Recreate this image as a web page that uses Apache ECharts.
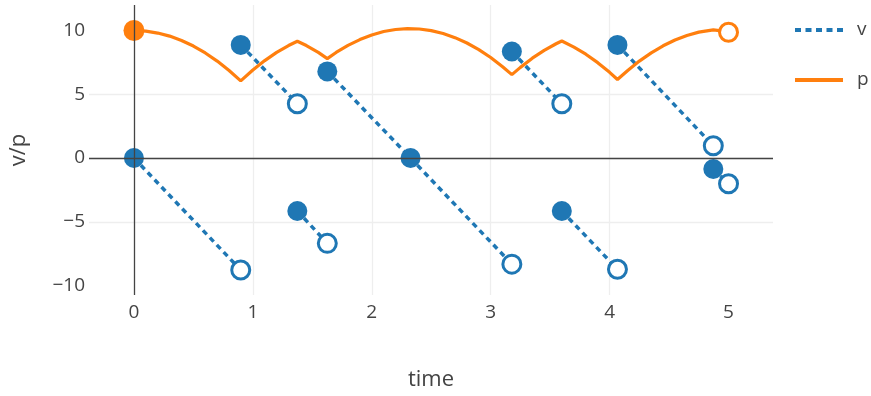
<!DOCTYPE html>
<html><head><meta charset="utf-8">
<script src="https://cdn.jsdelivr.net/npm/echarts@6/dist/echarts.min.js"></script>
<style>html,body{margin:0;padding:0;background:#fff}#c{width:871px;height:396px}</style>
</head><body><div id="c"></div><script>
// v segments (start filled marker, end open marker)
const vSegT0 = [0, 0.898, 1.374, 1.626, 2.326, 3.178, 3.598, 4.066, 4.872];
const vSegV0 = [0, 8.87, -4.15, 6.79, 0, 8.35, -4.15, 8.87, -0.86];
const vSegT1 = [0.898, 1.374, 1.626, 2.326, 3.178, 3.598, 4.066, 4.872, 5.0];
const vSegV1 = [-8.78, 4.26, -6.69, 0, -8.32, 4.26, -8.72, 0.96, -2.02];
// p curve
const pTime = [0,0.1,0.2,0.3,0.4,0.5,0.6,0.7,0.8,0.898,
  1.0,1.1,1.2,1.3,1.374,
  1.45,1.55,1.626,
  1.7,1.8,1.9,2.0,2.1,2.2,2.3,2.4,2.5,2.6,2.7,2.8,2.9,3.0,3.1,3.178,
  3.25,3.35,3.45,3.55,3.598,
  3.7,3.8,3.9,4.0,4.066,
  4.15,4.25,4.35,4.45,4.55,4.65,4.75,4.872,
  4.94,5.0];
const pValue = [10,9.95,9.80,9.56,9.22,8.78,8.24,7.60,6.86,6.05,
  6.90,7.64,8.28,8.82,9.16,
  8.82,8.28,7.80,
  8.28,8.83,9.29,9.65,9.92,10.08,10.15,10.12,9.99,9.76,9.44,9.02,8.50,7.88,7.16,6.54,
  7.11,7.83,8.44,8.96,9.18,
  8.70,8.14,7.48,6.72,6.16,
  6.85,7.60,8.25,8.80,9.26,9.61,9.87,10.05,
  9.97,9.86];
const xTicks = [0,1,2,3,4,5];
const yTicks = [-10,-5,0,5,10];

const BLUE = '#1f77b4', ORANGE = '#ff7f0e', TXT = '#444';
const FONT = '"Open Sans", sans-serif';
const fmt = v => (v < 0 ? '\u2212' + Math.abs(v) : String(v));

const series = [];
for (let i = 0; i < vSegT0.length; i++) {
  const line = {
    name: 'v', type: 'line', symbol: 'none', silent: true, z: 2 + i * 0.01,
    lineStyle: { color: BLUE, width: 3.5, type: [5.5, 4.5] },
    itemStyle: { color: BLUE },
    data: [[vSegT0[i], vSegV0[i]], [vSegT1[i], vSegV1[i]]]
  };
  if (i === 0) {
    line.markLine = {
      silent: true, symbol: 'none', label: { show: false },
      lineStyle: { color: TXT, width: 1.3, type: 'solid' },
      data: [{ xAxis: 0 }, { yAxis: 0 }]
    };
  }
  series.push(line);
  series.push({
    name: 'v', type: 'scatter', silent: true, symbol: 'circle', z: 2.005 + i * 0.01,
    itemStyle: { opacity: 1 },
    data: [
      { value: [vSegT0[i], vSegV0[i]], symbolSize: 20, itemStyle: { color: BLUE, opacity: 1 } },
      { value: [vSegT1[i], vSegV1[i]], symbolSize: 18, itemStyle: { color: '#fff', borderColor: BLUE, borderWidth: 3, opacity: 1 } }
    ].filter((d, k) => !(k === 1 && i + 1 < vSegT0.length && vSegT0[i+1] === vSegT1[i] && vSegV0[i+1] === vSegV1[i]))
  });
}
series.push({
  name: 'p', type: 'line', symbol: 'none', silent: true, z: 3,
  lineStyle: { color: ORANGE, width: 3.2 }, itemStyle: { color: ORANGE },
  data: pTime.map((t, i) => [t, pValue[i]])
});
series.push({
  name: 'p', type: 'scatter', silent: true, symbol: 'circle', z: 3.5,
  itemStyle: { opacity: 1 },
  data: [
    { value: [pTime[0], pValue[0]], symbolSize: 21, itemStyle: { color: ORANGE, opacity: 1 } },
    { value: [pTime[pTime.length-1], pValue[pValue.length-1]], symbolSize: 18, itemStyle: { color: '#fff', borderColor: ORANGE, borderWidth: 3, opacity: 1 } }
  ]
});

const dotIcon = 'path://M0,0h6v4h-6zM10.5,0h6v4h-6zM21,0h6v4h-6zM31.5,0h6v4h-6zM42,0h6v4h-6z';
const solidIcon = 'path://M0,0h48v4h-48z';

const chart = echarts.init(document.getElementById('c'), null, { renderer: 'canvas' });
chart.setOption({
  animation: false,
  backgroundColor: '#fff',
  textStyle: { fontFamily: FONT },
  grid: { left: 88, right: 98, top: 5, bottom: 99, containLabel: false },
  legend: {
    data: [{ name: 'v', icon: dotIcon }, { name: 'p', icon: solidIcon }],
    orient: 'vertical', left: 795, top: 20, padding: 0,
    itemWidth: 48, itemHeight: 4, itemGap: 30,
    itemStyle: { borderWidth: 0 },
    textStyle: { color: TXT, fontSize: 19, fontFamily: FONT, lineHeight: 20, padding: [0, 0, 0, 9] }
  },
  xAxis: {
    type: 'value', min: -0.378, max: 5.374,
    name: 'time', nameLocation: 'middle', nameGap: 74,
    nameTextStyle: { color: TXT, fontSize: 22, fontFamily: FONT },
    axisLine: { show: false },
    axisTick: { show: false, customValues: xTicks },
    axisLabel: { color: TXT, fontSize: 19, fontFamily: FONT, margin: 8, customValues: xTicks,
      formatter: v => fmt(v) },
    splitLine: { show: true, showMinLine: false, showMaxLine: false, lineStyle: { color: '#eee', width: 1.3 } }
  },
  yAxis: {
    type: 'value', min: -10.74, max: 12,
    name: 'v/p', nameLocation: 'middle', nameGap: 59, nameRotate: 90,
    nameTextStyle: { color: TXT, fontSize: 22, fontFamily: FONT },
    axisLine: { show: false },
    axisTick: { show: false, customValues: yTicks },
    axisLabel: { color: TXT, fontSize: 19, fontFamily: FONT, margin: 4, customValues: yTicks,
      formatter: v => fmt(v) },
    splitLine: { show: true, showMinLine: false, showMaxLine: false, lineStyle: { color: '#eee', width: 1.3 } }
  },
  series: series
});
</script></body></html>
